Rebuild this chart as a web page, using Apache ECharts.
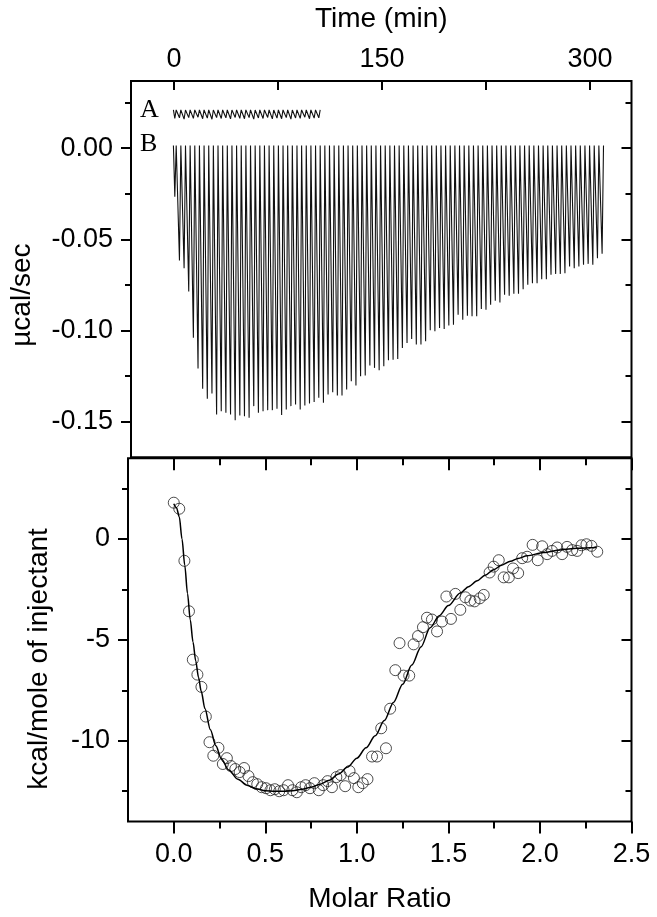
<!DOCTYPE html>
<html>
<head>
<meta charset="utf-8">
<title>ITC titration</title>
<script src="https://cdn.jsdelivr.net/npm/echarts@6.0.0/dist/echarts.min.js"></script>
<style>
  html, body { margin: 0; padding: 0; background: #fff; }
  #chart { width: 657px; height: 917px; }
</style>
</head>
<body>
<div id="chart"></div>
<script>
// raw thermogram (top panel), spike bottoms in µcal/sec
const injFirst = 0.6 // min, first spike
const injStep = 3.35 // min between injections
const baseB = 0.0015
const peaksB = [
  -0.0267, -0.0617, -0.0659, -0.0787, -0.1040, -0.1210, -0.1320, -0.1376, -0.1347, -0.1462,
  -0.1444, -0.1453, -0.1462, -0.1493, -0.1467, -0.1471, -0.1480, -0.1416, -0.1453, -0.1444,
  -0.1438, -0.1438, -0.1431, -0.1465, -0.1434, -0.1416, -0.1407, -0.1434, -0.1412, -0.1401,
  -0.1394, -0.1370, -0.1398, -0.1352, -0.1340, -0.1358, -0.1358, -0.1325, -0.1279, -0.1303,
  -0.1252, -0.1248, -0.1193, -0.1206, -0.1219, -0.1197, -0.1164, -0.1161, -0.1157, -0.1097,
  -0.1069, -0.1047, -0.1078, -0.1078, -0.1060, -0.1000, -0.1005, -0.0987, -0.0993, -0.0974,
  -0.0969, -0.0914, -0.0942, -0.0920, -0.0923, -0.0923, -0.0883, -0.0887, -0.0859, -0.0838,
  -0.0847, -0.0805, -0.0810, -0.0799, -0.0799, -0.0774, -0.0750, -0.0741, -0.0741, -0.0719,
  -0.0719, -0.0695, -0.0690, -0.0690, -0.0686, -0.0650, -0.0659, -0.0650, -0.0640, -0.0635,
  -0.0640, -0.0604, -0.0580
]
// blank run (trace A)
const baseA = 0.0210
const peaksA = [
  0.0163, 0.0167, 0.0160, 0.0168, 0.0164, 0.0170, 0.0162, 0.0165, 0.0159, 0.0168,
  0.0163, 0.0167, 0.0161, 0.0169, 0.0164, 0.0162, 0.0168, 0.0160, 0.0166, 0.0163,
  0.0169, 0.0161, 0.0165, 0.0162, 0.0168, 0.0160, 0.0166, 0.0164, 0.0170, 0.0162,
  0.0165, 0.0167
]

// integrated heats (bottom panel)
const molarRatio = [
  0.000, 0.030, 0.058, 0.083, 0.104, 0.129, 0.151, 0.175, 0.195, 0.216,
  0.244, 0.268, 0.290, 0.312, 0.336, 0.360, 0.384, 0.408, 0.432, 0.456,
  0.480, 0.504, 0.528, 0.552, 0.576, 0.600, 0.624, 0.648, 0.672, 0.696,
  0.720, 0.744, 0.768, 0.792, 0.816, 0.840, 0.864, 0.888, 0.912, 0.936,
  0.960, 0.984, 1.008, 1.032, 1.058, 1.083, 1.110, 1.133, 1.159, 1.182,
  1.210, 1.233, 1.255, 1.286, 1.310, 1.334, 1.361, 1.383, 1.410, 1.438,
  1.465, 1.489, 1.514, 1.538, 1.565, 1.593, 1.620, 1.643, 1.671, 1.693,
  1.725, 1.747, 1.775, 1.802, 1.830, 1.853, 1.881, 1.903, 1.930, 1.960,
  1.988, 2.012, 2.039, 2.066, 2.094, 2.121, 2.148, 2.176, 2.203, 2.227,
  2.254, 2.281, 2.313
]
const heat = [
  1.80, 1.50, -1.08, -3.58, -5.98, -6.72, -7.33, -8.80, -10.07, -10.74,
  -10.35, -11.15, -10.86, -11.25, -11.40, -11.55, -11.35, -11.75, -12.05, -12.15,
  -12.30, -12.35, -12.45, -12.40, -12.50, -12.45, -12.20, -12.45, -12.55, -12.30,
  -12.20, -12.35, -12.10, -12.45, -12.20, -12.00, -12.30, -11.80, -11.70, -12.25,
  -11.50, -11.85, -12.30, -12.10, -11.90, -10.78, -10.78, -9.38, -10.37, -8.41,
  -6.50, -5.16, -6.77, -6.77, -5.22, -4.81, -4.37, -3.90, -3.99, -4.58,
  -4.09, -2.85, -3.96, -2.72, -3.51, -2.89, -3.05, -3.09, -2.94, -2.77,
  -1.66, -1.37, -1.05, -1.90, -1.90, -1.46, -1.69, -0.95, -0.88, -0.29,
  -1.05, -0.36, -0.75, -0.59, -0.42, -0.75, -0.39, -0.55, -0.59, -0.31,
  -0.26, -0.34, -0.63
]
// fitted binding curve
const fitRatio = [
  0.000, 0.015, 0.030, 0.045, 0.060, 0.075, 0.090, 0.105, 0.120, 0.135,
  0.150, 0.170, 0.200, 0.230, 0.260, 0.300, 0.350, 0.400, 0.450, 0.500,
  0.550, 0.600, 0.650, 0.700, 0.750, 0.800, 0.850, 0.900, 0.950, 1.000,
  1.050, 1.100, 1.150, 1.200, 1.250, 1.300, 1.350, 1.400, 1.450, 1.500,
  1.565, 1.610, 1.657, 1.700, 1.747, 1.790, 1.839, 1.880, 1.930, 2.020,
  2.112, 2.203, 2.309
]
const fitHeat = [
  1.75, 1.55, 1.10, 0.00, -1.30, -2.70, -4.00, -5.10, -6.05, -6.85,
  -7.55, -8.40, -9.45, -10.25, -10.90, -11.45, -11.90, -12.20, -12.38, -12.47,
  -12.50, -12.50, -12.47, -12.40, -12.30, -12.15, -11.95, -11.65, -11.30, -10.86,
  -10.35, -9.75, -9.00, -8.10, -7.20, -6.25, -5.35, -4.40, -3.80, -3.30,
  -2.68, -2.36, -2.07, -1.80, -1.52, -1.30, -1.10, -0.96, -0.83, -0.67,
  -0.54, -0.46, -0.42
]

// ticks
const timeTicks = [0, 75, 150, 225, 300]
const timeLabels = [0, 150, 300]
const rawMajor = [-0.15, -0.10, -0.05, 0]
const rawMinor = [-0.125, -0.075, -0.025, 0.025]
const ratioMajor = [0, 0.5, 1, 1.5, 2, 2.5]
const ratioMinor = [0.25, 0.75, 1.25, 1.75, 2.25]
const heatMajor = [-10, -5, 0]
const heatMinor = [-12.5, -7.5, -2.5, 2.5]

const font = '"Liberation Sans", Arial, sans-serif'

// each spike: down to the peak and back to the baseline
function trace(peaks, base) {
  const pts = []
  peaks.forEach((p, i) => {
    const t = injFirst + i * injStep
    pts.push([t - injStep * 0.3, base], [t, p], [t + injStep * 0.3, base])
  })
  return pts
}

// one axis per tick set, majors and minors only differ in length
function tickAxis(o) {
  const ax = {
    type: 'value',
    gridIndex: o.grid,
    position: o.pos,
    min: o.min,
    max: o.max,
    axisLine: { show: false, onZero: false },
    splitLine: { show: false },
    axisTick: {
      show: true,
      inside: !!o.inside,
      length: o.len,
      customValues: o.ticks,
      lineStyle: { color: '#000', width: 2 }
    },
    axisLabel: { show: false }
  }
  if (o.labels) {
    ax.axisLabel = {
      show: true,
      customValues: o.labels,
      margin: o.margin,
      color: '#000',
      fontFamily: font,
      fontSize: 27,
      formatter: o.fmt
    }
  }
  if (o.name) {
    ax.name = o.name
    ax.nameLocation = 'middle'
    ax.nameGap = o.gap
    ax.nameRotate = o.rotate || 0
    ax.nameTextStyle = { color: '#000', fontFamily: font, fontSize: 28, padding: o.pad || 0 }
  }
  return ax
}

const chart = echarts.init(document.getElementById('chart'), null, { renderer: 'canvas' })

const tMin = -31; const tMax = 330
const rMin = -0.1697; const rMax = 0.0369
const xMin = -0.25; const xMax = 2.5
const hMin = -14; const hMax = 4

chart.setOption({
  animation: false,
  backgroundColor: '#fff',
  grid: [
    { left: 128, right: 25.5, top: 81, height: 376.3, show: true, borderColor: '#000', borderWidth: 2, backgroundColor: 'transparent' },
    { left: 128, right: 25.5, top: 458.3, height: 363.2, show: true, borderColor: '#000', borderWidth: 2, backgroundColor: 'transparent' }
  ],
  xAxis: [
    tickAxis({ grid: 0, pos: 'top', min: tMin, max: tMax, inside: true, len: 9, ticks: timeTicks,
      labels: timeLabels, margin: 8, fmt: v => String(v), name: 'Time (min)', gap: 48 }),
    tickAxis({ grid: 1, pos: 'bottom', min: xMin, max: xMax, len: 12, ticks: ratioMajor,
      labels: ratioMajor, margin: 20, fmt: v => v.toFixed(1), name: 'Molar Ratio', gap: 64 }),
    tickAxis({ grid: 1, pos: 'bottom', min: xMin, max: xMax, len: 7, ticks: ratioMinor }),
    tickAxis({ grid: 1, pos: 'top', min: xMin, max: xMax, inside: true, len: 12, ticks: ratioMajor }),
    tickAxis({ grid: 1, pos: 'top', min: xMin, max: xMax, inside: true, len: 7, ticks: ratioMinor })
  ],
  yAxis: [
    tickAxis({ grid: 0, pos: 'left', min: rMin, max: rMax, len: 10, ticks: rawMajor,
      labels: rawMajor, margin: 18, fmt: v => v.toFixed(2), name: 'µcal/sec', gap: 95, rotate: 90, pad: [0, 52, 0, 0] }),
    tickAxis({ grid: 0, pos: 'left', min: rMin, max: rMax, len: 6, ticks: rawMinor }),
    tickAxis({ grid: 0, pos: 'right', min: rMin, max: rMax, inside: true, len: 10, ticks: rawMajor }),
    tickAxis({ grid: 0, pos: 'right', min: rMin, max: rMax, inside: true, len: 6, ticks: rawMinor }),
    tickAxis({ grid: 1, pos: 'left', min: hMin, max: hMax, len: 10, ticks: heatMajor,
      labels: heatMajor, margin: 18, fmt: v => String(v), name: 'kcal/mole of injectant', gap: 75, rotate: 90, pad: [0, 38, 0, 0] }),
    tickAxis({ grid: 1, pos: 'left', min: hMin, max: hMax, len: 6, ticks: heatMinor }),
    tickAxis({ grid: 1, pos: 'right', min: hMin, max: hMax, inside: true, len: 10, ticks: heatMajor }),
    tickAxis({ grid: 1, pos: 'right', min: hMin, max: hMax, inside: true, len: 6, ticks: heatMinor })
  ],
  graphic: [
    { type: 'text', left: 140, top: 97, style: { text: 'A', font: '26px "Liberation Serif", "Times New Roman", serif', fill: '#000' } },
    { type: 'text', left: 140, top: 131, style: { text: 'B', font: '26px "Liberation Serif", "Times New Roman", serif', fill: '#000' } }
  ],
  series: [
    {
      name: 'B',
      type: 'line',
      xAxisIndex: 0,
      yAxisIndex: 0,
      data: trace(peaksB, baseB),
      showSymbol: false,
      lineStyle: { color: '#111', width: 1.1 }
    },
    {
      name: 'A',
      type: 'line',
      xAxisIndex: 0,
      yAxisIndex: 0,
      data: trace(peaksA, baseA),
      showSymbol: false,
      lineStyle: { color: '#111', width: 1.1 }
    },
    {
      name: 'fit',
      type: 'line',
      xAxisIndex: 1,
      yAxisIndex: 4,
      data: fitRatio.map((x, i) => [x, fitHeat[i]]),
      showSymbol: false,
      smooth: 0.3,
      smoothMonotone: 'x',
      lineStyle: { color: '#000', width: 1.5 }
    },
    {
      name: 'heat',
      type: 'scatter',
      xAxisIndex: 1,
      yAxisIndex: 4,
      data: molarRatio.map((x, i) => [x, heat[i]]),
      symbol: 'circle',
      symbolSize: 11,
      itemStyle: { color: 'rgba(0,0,0,0)', borderColor: '#222', borderWidth: 1 }
    }
  ]
})
</script>
</body>
</html>
